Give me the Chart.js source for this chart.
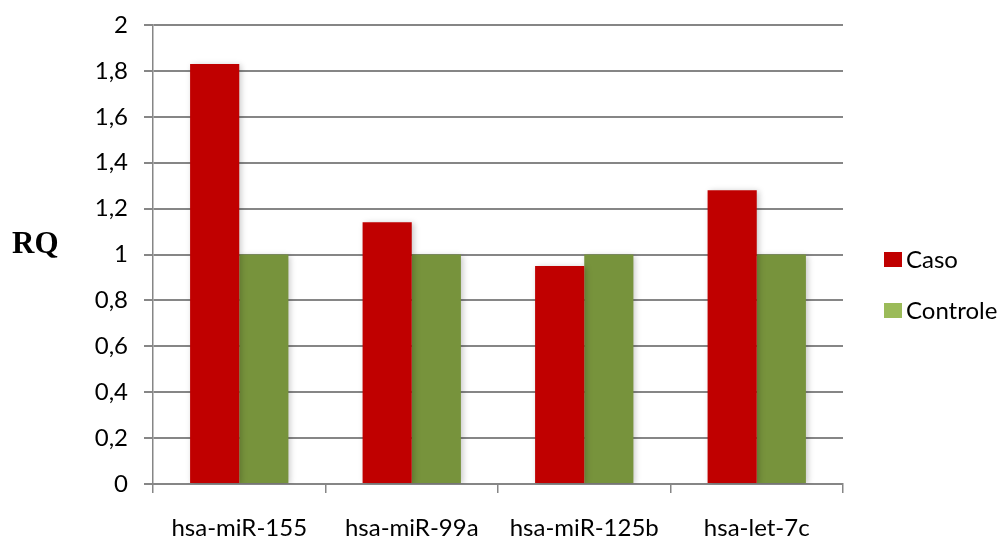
<!DOCTYPE html>
<html>
<head>
<meta charset="utf-8">
<script src="https://cdn.jsdelivr.net/npm/chart.js@4.4.1/dist/chart.umd.min.js"></script>
<style>
  html, body { margin: 0; padding: 0; background: #fff; }
  #wrap { width: 1004px; height: 543px; position: relative; }
</style>
</head>
<body>
<div id="wrap"><canvas id="c" width="1004" height="543"></canvas></div>
<script>
// Relative quantification of miRNA expression
const categories = ['hsa-miR-155', 'hsa-miR-99a', 'hsa-miR-125b', 'hsa-let-7c'];
const casoValues = [1.83, 1.14, 0.95, 1.28];
const controleValues = [1, 1, 1, 1];
const seriesNames = ['Caso', 'Controle'];
const yTickLabels = ['0', '0,2', '0,4', '0,6', '0,8', '1', '1,2', '1,4', '1,6', '1,8', '2'];

const RED = '#C00000';
const GREEN = '#77933C';
const LEGEND_GREEN = '#9BBB59';
const GRID = '#868686';
const SANS = 'Lato, "Liberation Sans", sans-serif';

// Soft drop shadow behind the bars
const barShadow = {
  id: 'barShadow',
  beforeDatasetsDraw(chart) {
    const ctx = chart.ctx;
    ctx.save();
    ctx.shadowColor = 'rgba(0,0,0,0.22)';
    ctx.shadowBlur = 6;
    ctx.shadowOffsetX = 2;
    ctx.shadowOffsetY = 1;
  },
  afterDatasetsDraw(chart) {
    chart.ctx.restore();
  }
};

// Axis title and side legend
const annotations = {
  id: 'annotations',
  afterDraw(chart) {
    const ctx = chart.ctx;
    ctx.save();
    ctx.fillStyle = '#000';
    ctx.font = 'bold 31px "Liberation Serif", "Times New Roman", serif';
    ctx.textAlign = 'left';
    ctx.textBaseline = 'middle';
    ctx.fillText('RQ', 12, 245);

    const items = [
      { label: seriesNames[0], color: RED, y: 259 },
      { label: seriesNames[1], color: LEGEND_GREEN, y: 310 }
    ];
    ctx.font = '24px ' + SANS;
    items.forEach(it => {
      ctx.fillStyle = it.color;
      ctx.fillRect(884, it.y - 7, 18, 15);
      ctx.fillStyle = '#000';
      ctx.fillText(it.label, 906, it.y + 1);
    });
    ctx.restore();
  }
};

new Chart(document.getElementById('c'), {
  type: 'bar',
  data: {
    labels: categories,
    datasets: [
      { label: seriesNames[0], data: casoValues, backgroundColor: RED },
      { label: seriesNames[1], data: controleValues, backgroundColor: GREEN }
    ]
  },
  options: {
    responsive: false,
    animation: false,
    devicePixelRatio: 1,
    layout: { padding: { top: 25, right: 161, left: 0, bottom: 0 } },
    datasets: { bar: { categoryPercentage: 0.57, barPercentage: 1.0 } },
    plugins: { legend: { display: false }, tooltip: { enabled: false } },
    scales: {
      x: {
        afterFit(scale) { scale.height = 59; scale.paddingLeft = 0; scale.paddingRight = 0; },
        grid: { display: true, drawOnChartArea: false, drawTicks: true, tickLength: 9, color: GRID, lineWidth: 1.5, offset: true },
        border: { display: true, color: GRID, width: 2 },
        ticks: { color: '#000', font: { family: SANS, size: 24 }, padding: 21, maxRotation: 0 }
      },
      y: {
        min: 0,
        max: 2,
        afterFit(scale) { scale.width = 153; scale.paddingTop = 0; scale.paddingBottom = 0; },
        grid: { color: GRID, lineWidth: 2, tickLength: 9 },
        border: { display: true, color: GRID, width: 1.5 },
        ticks: {
          stepSize: 0.2,
          color: '#000',
          padding: 16,
          font: { family: SANS, size: 24 },
          callback: (v, i) => yTickLabels[i]
        }
      }
    }
  },
  plugins: [barShadow, annotations]
});
</script>
</body>
</html>
